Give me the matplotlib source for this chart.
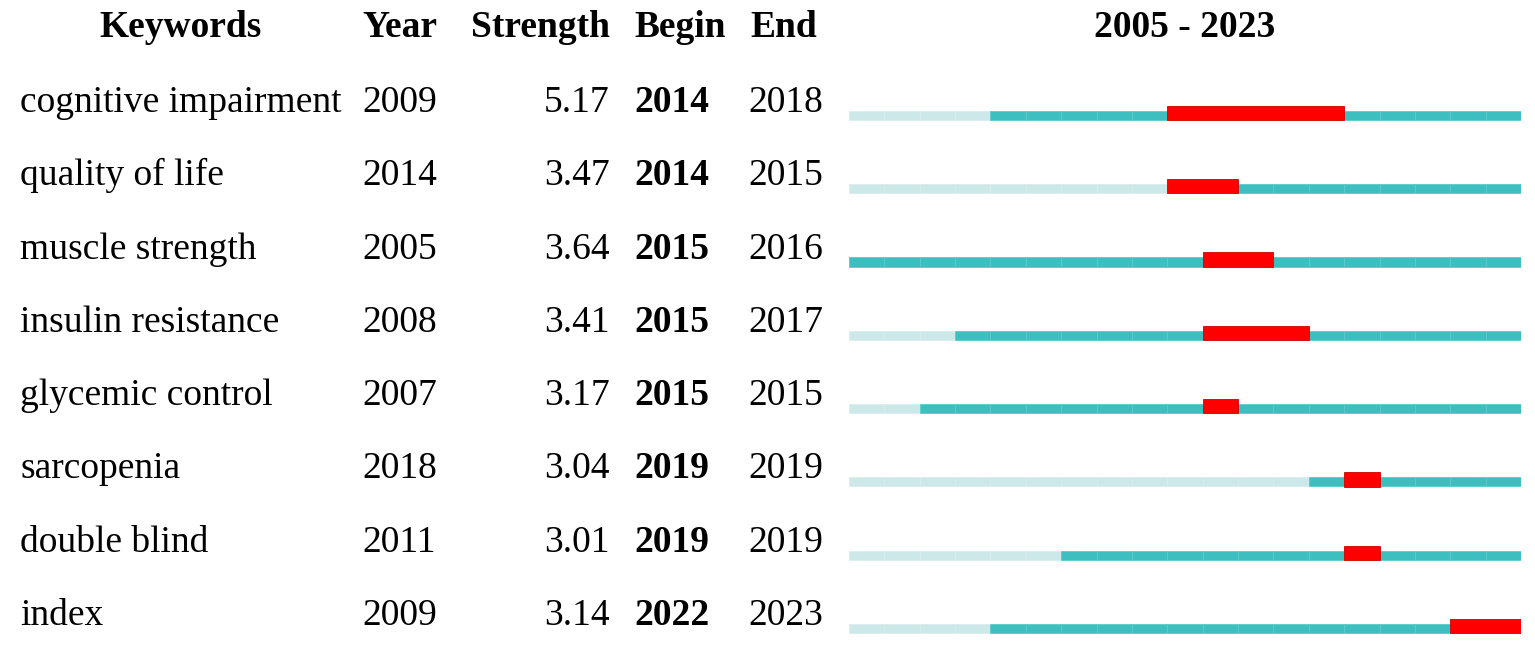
import matplotlib
matplotlib.use("Agg")
import matplotlib.pyplot as plt

# Burst table data
keywords = ["cognitive impairment", "quality of life", "muscle strength", "insulin resistance",
            "glycemic control", "sarcopenia", "double blind", "index"]
years = [2009, 2014, 2005, 2008, 2007, 2018, 2011, 2009]
strength = [5.17, 3.47, 3.64, 3.41, 3.17, 3.04, 3.01, 3.14]
begin = [2014, 2014, 2015, 2015, 2015, 2019, 2019, 2022]
end = [2018, 2015, 2016, 2017, 2015, 2019, 2019, 2023]
span_start, span_end = 2005, 2023

plt.rcParams["font.family"] = ["Liberation Serif", "DejaVu Serif"]

W, H = 1535, 649
fig = plt.figure(figsize=(W / 100, H / 100), dpi=100)

# text layer in pixel coordinates
tx = fig.add_axes([0, 0, 1, 1])
tx.set_xlim(0, W)
tx.set_ylim(H, 0)
tx.axis("off")

fs = 27
head_y = 37
tx.text(180, head_y, "Keywords", ha="center", va="baseline", fontsize=fs, fontweight="bold")
tx.text(362, head_y, "Year", ha="left", va="baseline", fontsize=fs, fontweight="bold")
tx.text(610, head_y, "Strength", ha="right", va="baseline", fontsize=fs, fontweight="bold")
tx.text(634, head_y, "Begin", ha="left", va="baseline", fontsize=fs, fontweight="bold")
tx.text(750, head_y, "End", ha="left", va="baseline", fontsize=fs, fontweight="bold")
tx.text(1185, head_y, f"{span_start} - {span_end}", ha="center", va="baseline",
        fontsize=fs, fontweight="bold")

row_h = 73.3
for i, kw in enumerate(keywords):
    y = 112 + row_h * i
    tx.text(20, y, kw, ha="left", va="baseline", fontsize=fs)
    tx.text(362, y, str(years[i]), ha="left", va="baseline", fontsize=fs)
    tx.text(610, y, f"{strength[i]:.2f}", ha="right", va="baseline", fontsize=fs)
    tx.text(634, y, str(begin[i]), ha="left", va="baseline", fontsize=fs, fontweight="bold")
    tx.text(748, y, str(end[i]), ha="left", va="baseline", fontsize=fs)

# timeline layer: x in years, y in rows (bar bottom at row index)
ax = fig.add_axes([849 / W, 0, 672 / W, 1])
ax.set_xlim(span_start, span_end + 1)
ax.set_ylim((H - 120) / row_h, -120 / row_h)
ax.axis("off")

light = "#cde8e8"
teal = "#3ebfbf"
red = "#ff0000"
th, rh = 9.3 / row_h, 14.3 / row_h
for i in range(len(keywords)):
    for yr in range(span_start, span_end + 1):
        if begin[i] <= yr <= end[i]:
            continue
        c = teal if yr >= years[i] else light
        ec = "#5ccaca" if yr >= years[i] else "#d8eeee"
        ax.bar(yr, th, width=1, bottom=i - th, align="edge", color=c,
               edgecolor=ec, linewidth=0.6)
    ax.bar(begin[i], rh, width=end[i] - begin[i] + 1, bottom=i - rh, align="edge",
           color=red, edgecolor="#d00000", linewidth=0.6)

fig.savefig("out.png", dpi=100)
